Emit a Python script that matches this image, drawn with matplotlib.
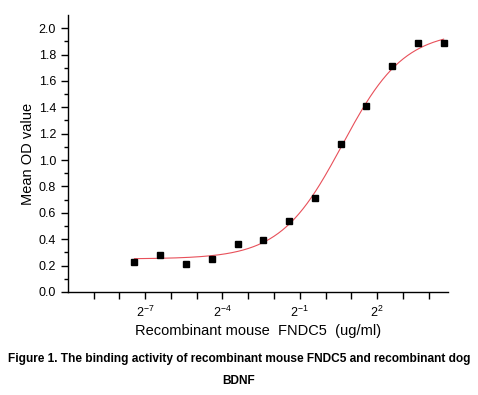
import numpy as np
import matplotlib
matplotlib.use("Agg")
import matplotlib.pyplot as plt

plt.rcParams['font.family'] = ['Liberation Sans', 'DejaVu Sans']
plt.rcParams['mathtext.fontset'] = 'custom'
plt.rcParams['mathtext.rm'] = 'Liberation Sans'

# concentrations (ug/ml), two-fold dilution from 24
conc = [24, 12, 6, 3, 1.5, 0.75, 0.375, 0.1875, 0.09375, 0.046875,
        0.0234375, 0.01171875, 0.005859375]
od = [1.885, 1.89, 1.71, 1.41, 1.12, 0.71, 0.54, 0.39, 0.367, 0.253,
      0.215, 0.283, 0.225]

tick_exp = list(range(-9, 5))
label_exp = [-7, -4, -1, 2]

# 4-parameter logistic fit (coarse grid search)
L = np.log2(np.array(conc))
y = np.array(od)
A1 = np.linspace(0.15, 0.35, 21)[:, None, None, None, None]
A2 = np.linspace(1.8, 2.3, 26)[None, :, None, None, None]
L0 = np.linspace(-0.5, 1.5, 41)[None, None, :, None, None]
P = np.linspace(0.8, 2.0, 25)[None, None, None, :, None]
pred = A2 + (A1 - A2) / (1 + 2 ** (P * (L - L0)))
sse = ((pred - y) ** 2).sum(axis=-1)
i, j, k, m = np.unravel_index(np.argmin(sse), sse.shape)
a1, a2, l0, p = A1.ravel()[i], A2.ravel()[j], L0.ravel()[k], P.ravel()[m]
Lf = np.linspace(L.min(), L.max(), 300)
yf = a2 + (a1 - a2) / (1 + 2 ** (p * (Lf - l0)))

fig = plt.figure(figsize=(4.78, 3.95), dpi=100)
ax = fig.add_axes([0.142, 0.261, 0.795, 0.701])

ax.plot(2 ** Lf, yf, color='#e8505a', lw=0.8)
ax.plot(conc, od, 'ks', ms=5)

ax.set_xscale('log', base=2)
ax.set_xlim(2 ** -10, 2 ** 4.75)
ax.set_ylim(0, 2.1)
ax.set_xticks([2.0 ** e for e in tick_exp])
ax.set_xticklabels(['$2^{%d}$' % e if e in label_exp else '' for e in tick_exp])
ax.xaxis.set_minor_locator(matplotlib.ticker.NullLocator())
ax.set_yticks(np.arange(0, 2.01, 0.2))
ax.set_yticks(np.arange(0.1, 2.1, 0.2), minor=True)
ax.set_yticklabels(['%.1f' % v for v in np.arange(0, 2.01, 0.2)])

for s in ['top', 'right']:
    ax.spines[s].set_visible(False)
for s in ['left', 'bottom']:
    ax.spines[s].set_linewidth(1.0)
ax.tick_params(axis='both', which='major', length=5, width=1, labelsize=9, direction='out')
ax.tick_params(axis='y', which='minor', length=3, width=1, direction='out')
ax.tick_params(axis='x', pad=4)

ax.set_xlabel('Recombinant mouse  FNDC5  (ug/ml)', fontsize=10.5, labelpad=3)
ax.set_ylabel('Mean OD value', fontsize=10.5, labelpad=3)

fig.text(0.5, 1 - 359 / 395, 'Figure 1. The binding activity of recombinant mouse FNDC5 and recombinant dog',
         ha='center', va='center', fontsize=8.6, fontweight='bold')
fig.text(0.5, 1 - 381 / 395, 'BDNF', ha='center', va='center', fontsize=8.6, fontweight='bold')

fig.savefig('out.png', dpi=100)
